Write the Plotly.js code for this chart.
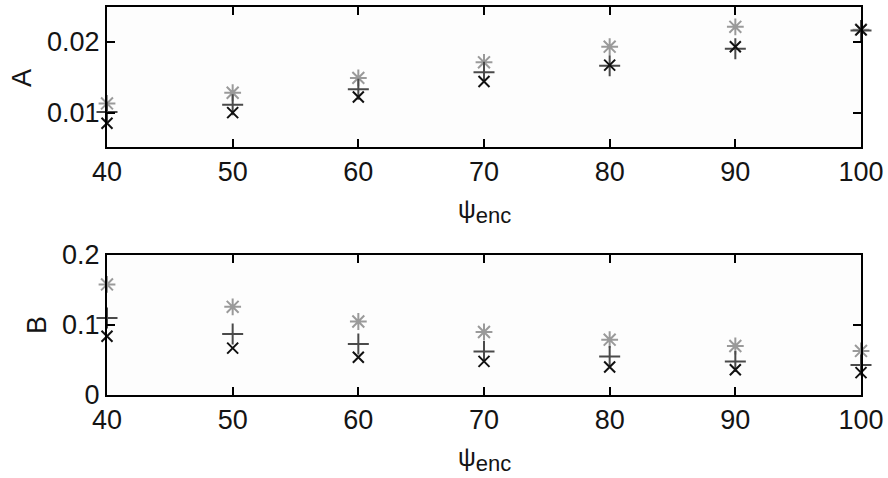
<!DOCTYPE html>
<html>
<head>
<meta charset="utf-8">
<script src="https://cdn.plot.ly/plotly-3.0.1.min.js"></script>
<style>
  html, body { margin: 0; padding: 0; background: #ffffff; }
  #chart { width: 888px; height: 478px; }
</style>
</head>
<body>
<div id="chart"></div>
<script>
// Encounter angle values shared by both panels
const psiEnc = [40, 50, 60, 70, 80, 90, 100];

// Panel A
const aStar  = [0.0113, 0.0128, 0.0149, 0.0171, 0.0193, 0.0221, 0.0217];
const aPlus  = [0.0101, 0.0111, 0.0133, 0.0157, 0.0166, 0.0190, 0.0216];
const aCross = [0.0085, 0.0100, 0.0122, 0.0144, 0.0167, 0.0193, 0.0217];

// Panel B
const bStar  = [0.158, 0.126, 0.105, 0.090, 0.079, 0.070, 0.063];
const bPlus  = [0.110, 0.087, 0.073, 0.062, 0.055, 0.048, 0.043];
const bCross = [0.084, 0.067, 0.054, 0.048, 0.040, 0.036, 0.032];

// Tick labels
const xTicks = [40, 50, 60, 70, 80, 90, 100];
const aTicks = [0.01, 0.02];
const aTickText = ['0.01', '0.02'];
const bTicks = [0, 0.1, 0.2];
const bTickText = ['0', '0.1', '0.2'];

const FONT = 'Liberation Sans, Arial, Helvetica, sans-serif';
const TXT = '#141414';

function series(x, y, symbol, color, size, xa, ya) {
  return {
    type: 'scatter', mode: 'markers', x: x, y: y,
    xaxis: xa, yaxis: ya, cliponaxis: false, showlegend: false,
    marker: { symbol: symbol, size: size, color: color,
              line: { color: color, width: 2 } }
  };
}

const data = [
  series(psiEnc, aStar,  'asterisk-open',   '#9a9a9a', 14, 'x',  'y'),
  series(psiEnc, aPlus,  'cross-thin-open', '#4a4a4a', 15, 'x',  'y'),
  series(psiEnc, aCross, 'x-thin-open',     '#111111', 11, 'x',  'y'),
  series(psiEnc, bStar,  'asterisk-open',   '#9a9a9a', 14, 'x2', 'y2'),
  series(psiEnc, bPlus,  'cross-thin-open', '#4a4a4a', 15, 'x2', 'y2'),
  series(psiEnc, bCross, 'x-thin-open',     '#111111', 11, 'x2', 'y2')
];

function xAxis(anchor) {
  return {
    anchor: anchor, range: [40, 100], tickvals: xTicks,
    showline: true, linecolor: '#000', linewidth: 2, mirror: 'ticks',
    ticks: 'inside', ticklen: 8, tickwidth: 2, tickcolor: '#000',
    showgrid: false, zeroline: false,
    tickfont: { family: FONT, size: 27, color: TXT }
  };
}

function yAxis(anchor, domain, range, vals, text) {
  return {
    anchor: anchor, domain: domain, range: range,
    tickvals: vals, ticktext: text,
    showline: true, linecolor: '#000', linewidth: 2, mirror: 'ticks',
    ticks: 'inside', ticklen: 8, tickwidth: 2, tickcolor: '#000',
    showgrid: false, zeroline: false,
    tickfont: { family: FONT, size: 27, color: TXT }
  };
}

// Axis titles placed as paper annotations
function label(text, x, y, angle, size) {
  return {
    xref: 'paper', yref: 'paper', x: x, y: y, text: text,
    showarrow: false, textangle: angle, xanchor: 'center', yanchor: 'middle',
    font: { family: FONT, size: size, color: TXT }
  };
}

// plot area: x 107..861 px, y 7..395 px
const PW = 754, PH = 388;
const px = v => (v - 107) / PW;
const py = v => 1 - (v - 7) / PH;

const PSI = '\u03c8<sub><span style="font-size:22px">enc</span></sub>';

const layout = {
  width: 888, height: 478,
  margin: { l: 107, r: 27, t: 7, b: 83 },
  paper_bgcolor: '#ffffff', plot_bgcolor: '#fdfdfd',
  font: { family: FONT, color: TXT },
  xaxis:  xAxis('y'),
  yaxis:  yAxis('x',  [0.6392, 1], [0.00515, 0.0249], aTicks, aTickText),
  xaxis2: xAxis('y2'),
  yaxis2: yAxis('x2', [0, 0.3608], [0, 0.2], bTicks, bTickText),
  annotations: [
    label(PSI, px(484), py(211), 0, 25),
    label(PSI, px(484), py(459), 0, 25),
    label('A', px(22), py(78), -90, 27),
    label('B', px(37), py(325), -90, 27)
  ]
};

Plotly.newPlot('chart', data, layout, { displayModeBar: false, staticPlot: true });
</script>
</body>
</html>
